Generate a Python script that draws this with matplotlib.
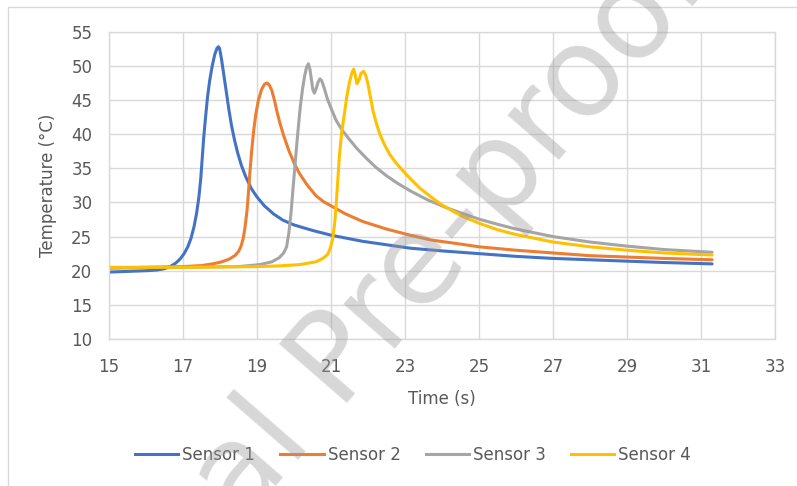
import matplotlib
matplotlib.use("Agg")
import matplotlib.pyplot as plt
from matplotlib.patches import Rectangle
from matplotlib.lines import Line2D

# Temperature traces (time in s, temperature in °C)
s1_time = [15.0, 15.5, 16.0, 16.3, 16.5, 16.65, 16.8, 16.92, 17.03, 17.13, 17.22, 17.3,
           17.37, 17.43, 17.48, 17.52, 17.56, 17.61, 17.66, 17.72, 17.79, 17.86, 17.92,
           17.96, 17.99, 18.04, 18.1, 18.17, 18.24, 18.31, 18.39, 18.48, 18.58, 18.7,
           18.85, 19.0, 19.2, 19.45, 19.7, 20.0, 20.5, 21.0, 21.86, 22.5, 23.14, 24.0,
           25.0, 26.0, 27.0, 28.0, 29.0, 30.0, 31.3]
s1_temp = [19.8, 19.9, 20.0, 20.1, 20.3, 20.6, 21.1, 21.7, 22.5, 23.5, 24.8, 26.5,
           28.5, 30.8, 33.5, 36.5, 39.5, 42.5, 45.3, 47.8, 50.0, 51.7, 52.6,
           52.8, 52.5, 51.0, 48.8, 46.2, 43.6, 41.3, 39.2, 37.2, 35.4, 33.7,
           32.0, 30.8, 29.5, 28.3, 27.4, 26.7, 25.9, 25.2, 24.3, 23.8, 23.3, 22.9,
           22.5, 22.1, 21.8, 21.6, 21.4, 21.2, 21.0]

s2_time = [15.0, 16.0, 17.0, 17.5, 17.8, 18.05, 18.25, 18.4, 18.5, 18.57, 18.63, 18.68,
           18.73, 18.77, 18.81, 18.86, 18.91, 18.97, 19.04, 19.12, 19.2, 19.27, 19.33,
           19.4, 19.47, 19.54, 19.62, 19.72, 19.86, 20.0, 20.14, 20.35, 20.59, 20.8,
           21.0, 21.4, 21.86, 22.5, 23.14, 23.7, 24.5, 25.0, 26.0, 27.0, 28.0, 29.0,
           30.0, 31.3]
s2_temp = [20.4, 20.5, 20.6, 20.75, 21.0, 21.3, 21.7, 22.2, 22.8, 23.6, 24.8, 26.5,
           28.8, 31.5, 34.5, 37.8, 40.5, 43.0, 45.0, 46.5, 47.3, 47.5, 47.2,
           46.4, 45.0, 43.3, 41.6, 39.8, 37.6, 35.8, 34.3, 32.6, 31.0, 30.1,
           29.5, 28.3, 27.2, 26.1, 25.2, 24.5, 23.9, 23.5, 23.0, 22.6, 22.2, 22.0,
           21.8, 21.6]

s3_time = [15.0, 17.0, 18.5, 19.08, 19.4, 19.6, 19.72, 19.8, 19.86, 19.92, 19.97, 20.02,
           20.07, 20.12, 20.17, 20.23, 20.29, 20.34, 20.39, 20.43, 20.47, 20.51, 20.55,
           20.6, 20.65, 20.7, 20.75, 20.82, 20.9, 21.0, 21.14, 21.3, 21.5, 21.7, 21.95,
           22.2, 22.5, 22.8, 23.14, 23.6, 24.13, 24.6, 25.03, 25.5, 26.0, 27.0, 28.0,
           29.0, 30.0, 31.3]
s3_temp = [20.4, 20.5, 20.6, 20.9, 21.3, 21.9, 22.6, 23.5, 25.5, 28.5, 31.8, 35.0,
           38.2, 41.2, 44.0, 46.6, 48.6, 49.8, 50.3, 49.5, 48.0, 46.5, 46.0,
           46.7, 47.6, 48.1, 47.8, 46.7, 45.2, 43.8, 42.0, 40.6, 39.2, 37.9, 36.5,
           35.2, 33.9, 32.8, 31.7, 30.4, 29.2, 28.3, 27.5, 26.8, 26.1, 25.0, 24.2,
           23.6, 23.1, 22.7]

s4_time = [15.0, 17.0, 19.0, 19.59, 20.16, 20.59, 20.78, 20.91, 20.98, 21.05, 21.1, 21.14,
           21.18, 21.23, 21.29, 21.36, 21.43, 21.5, 21.56, 21.61, 21.65, 21.7, 21.75,
           21.81, 21.88, 21.94, 22.0, 22.07, 22.14, 22.23, 22.32, 22.45, 22.59, 22.77,
           22.95, 23.14, 23.4, 23.68, 23.95, 24.3, 24.58, 25.03, 25.5, 26.0, 27.0, 28.0,
           29.0, 30.0, 31.3]
s4_temp = [20.5, 20.5, 20.6, 20.7, 20.9, 21.3, 21.8, 22.4, 23.3, 24.8, 27.0, 29.7,
           33.0, 37.0, 40.3, 42.9, 45.6, 47.6, 48.9, 49.5, 48.8, 47.4, 47.8,
           48.9, 49.2, 48.6, 47.3, 45.3, 43.3, 41.5, 40.0, 38.4, 37.0, 35.7,
           34.6, 33.5, 32.1, 30.9, 29.8, 28.7, 27.9, 26.9, 26.0, 25.3, 24.2, 23.5,
           23.0, 22.6, 22.3]

series_names = ["Sensor 1", "Sensor 2", "Sensor 3", "Sensor 4"]
series_colors = ["#4472C4", "#ED7D31", "#A5A5A5", "#FFC000"]
x_ticks = list(range(15, 34, 2))
y_ticks = list(range(10, 56, 5))

text_color = "#595959"
grid_color = "#d9d9d9"
plt.rcParams["font.family"] = ["DejaVu Sans"]

fig = plt.figure(figsize=(7.97, 4.86), dpi=100)
fig.patch.set_facecolor("white")

# chart-area frame (extends past the right and bottom edges)
fig.patches.append(Rectangle((8 / 797, -0.1), 1.2, 1 - 7 / 486 + 0.1,
                             transform=fig.transFigure, fill=False,
                             edgecolor=grid_color, linewidth=1.0, zorder=0))

ax = fig.add_axes([109 / 797, 1 - 339 / 486, (775 - 109) / 797, (339 - 31.7) / 486])
ax.set_xlim(15, 33)
ax.set_ylim(10, 55)
ax.set_xticks(x_ticks)
ax.set_yticks(y_ticks)
ax.grid(True, color=grid_color, linewidth=1.0)
ax.set_axisbelow(True)
for side in ["top", "right", "left", "bottom"]:
    ax.spines[side].set_color(grid_color)
    ax.spines[side].set_linewidth(1.0)
ax.tick_params(length=0, labelsize=12, colors=text_color)
ax.tick_params(axis="x", pad=14)
ax.tick_params(axis="y", pad=12)

times = [s1_time, s2_time, s3_time, s4_time]
temps = [s1_temp, s2_temp, s3_temp, s4_temp]
for t, v, c in zip(times, temps, series_colors):
    ax.plot(t, v, color=c, linewidth=2.2, solid_capstyle="round", solid_joinstyle="round")

ax.set_xlabel("Time (s)", fontsize=12, color=text_color, labelpad=10)
ax.set_ylabel("Temperature (°C)", fontsize=12, color=text_color, labelpad=10)

handles = [Line2D([0], [0], color=c, linewidth=2.2) for c in series_colors]
fig.legend(handles, series_names, loc="center", bbox_to_anchor=(413 / 797, 1 - 455 / 486),
           ncol=4, frameon=False, fontsize=12, labelcolor=text_color,
           handlelength=2.6, handletextpad=0.25, columnspacing=1.5)

# diagonal watermark
fig.text(348 / 797, 1 - 358 / 486, "Journal Pre-proof", fontsize=90, rotation=49,
         ha="center", va="center", color="#9a9a9a", alpha=0.4,
         rotation_mode="anchor", zorder=10)

fig.savefig("out.png", dpi=100, facecolor="white")
